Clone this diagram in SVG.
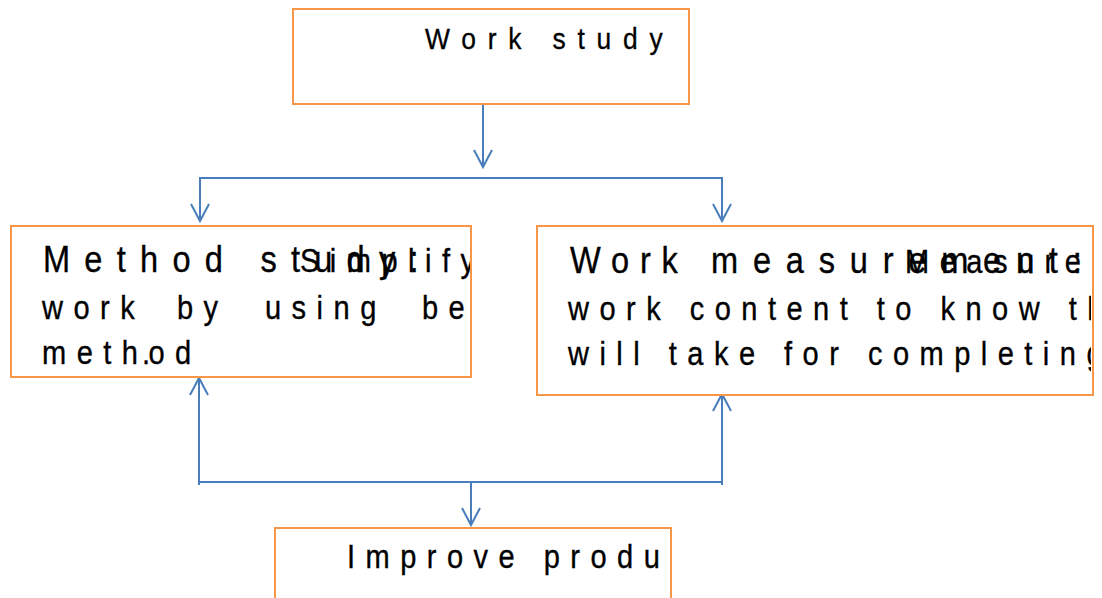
<svg xmlns="http://www.w3.org/2000/svg" width="1102" height="598" viewBox="0 0 1102 598">
<style>
.box{fill:#FFFFFF;stroke:#F79646;stroke-width:2}
.c{fill:none;stroke:#4A7EBB;stroke-width:2}
.t{font-family:"Liberation Sans",Arial,sans-serif;fill:#000000;stroke:#000000;stroke-width:0.35px}
.h{font-size:37px;letter-spacing:16.2px}
.d{font-size:33px;letter-spacing:11.9px}
</style>
<defs>
<clipPath id="clipL"><rect x="11" y="226" width="459" height="151"/></clipPath>
<clipPath id="clipR"><rect x="537" y="226" width="554" height="169"/></clipPath>
<clipPath id="clipB"><rect x="275" y="528" width="394" height="70"/></clipPath>
</defs>
<rect width="1102" height="598" fill="#FFFFFF"/>
<g id="connectors">
<path class="c" d="M483 102V167M474 150L483 167L492 150"/>
<path class="c" d="M199 178H723"/>
<path class="c" d="M200 178V221M191 204L200 221L209 204"/>
<path class="c" d="M722 178V221M713 204L722 221L731 204"/>
<path class="c" d="M199 482H723"/>
<path class="c" d="M199 485V378M190 395L199 378L208 395"/>
<path class="c" d="M722 485V394M713 411L722 394L731 411"/>
<path class="c" d="M471 482V525M462 508L471 525L480 508"/>
</g>
<g id="work-study">
<rect class="box" x="293" y="9" width="396" height="95"/>
<text class="t" transform="translate(425 49) scale(0.88 1)" style="font-size:30px;letter-spacing:13.4px">Work study</text>
</g>
<g id="method-study">
<rect class="box" x="11" y="226" width="460" height="151"/>
<g clip-path="url(#clipL)">
<text class="t h" transform="translate(43 272) scale(0.88 1)">Method study:</text>
<text class="t d" transform="translate(300 272) scale(0.88 1)">Simplify</text>
<text class="t d" transform="translate(42 319) scale(0.88 1)">work</text>
<text class="t d" transform="translate(177 319) scale(0.88 1)">by</text>
<text class="t d" transform="translate(265 319) scale(0.88 1)">using</text>
<text class="t d" transform="translate(422 319) scale(0.88 1)">be</text>
<text class="t d" transform="translate(42 364) scale(0.88 1)">method</text>
<text class="t d" transform="translate(142 364) scale(0.88 1)">.</text>
</g>
</g>
<g id="work-measurement">
<rect class="box" x="537" y="226" width="556" height="169"/>
<g clip-path="url(#clipR)">
<text class="t" transform="translate(570 273) scale(0.88 1)" style="font-size:37px;letter-spacing:12.3px">Work</text>
<text class="t" transform="translate(711 273) scale(0.88 1)" style="font-size:37px;letter-spacing:16.8px">measurement:</text>
<text class="t d" transform="translate(905 273) scale(0.88 1)">Measure:</text>
<text class="t d" transform="translate(568 320) scale(0.88 1)">work content to know the</text>
<text class="t d" transform="translate(568 365) scale(0.88 1)">will take for completing</text>
</g>
</g>
<g id="improve-productivity">
<rect class="box" x="275" y="528" width="396" height="80"/>
<g clip-path="url(#clipB)">
<text class="t d" transform="translate(347 568) scale(0.88 1)">Improve production</text>
</g>
</g>
</svg>
